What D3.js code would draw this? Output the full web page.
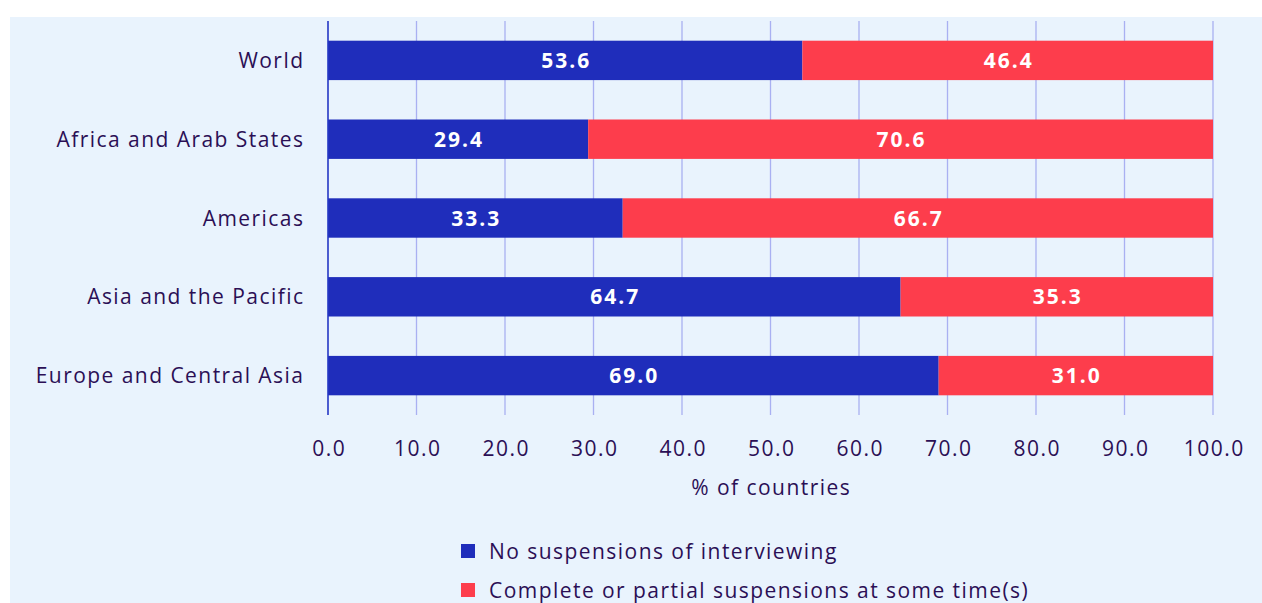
<!DOCTYPE html>
<html>
<head>
<meta charset="utf-8">
<script src="https://cdn.jsdelivr.net/npm/d3@7"></script>
<style>
  html, body { margin: 0; padding: 0; background: #ffffff; }
  svg { display: block; }
  text { font-family: "Open Sans", Lato, sans-serif; }
</style>
</head>
<body>
<svg id="chart" width="1262" height="603"></svg>
<script>
// Regional shares of countries by interviewing suspension status
const regions = ["World", "Africa and Arab States", "Americas", "Asia and the Pacific", "Europe and Central Asia"];
const noSuspension = [53.6, 29.4, 33.3, 64.7, 69.0];
const suspension = [46.4, 70.6, 66.7, 35.3, 31.0];
const seriesNames = ["No suspensions of interviewing", "Complete or partial suspensions at some time(s)"];
const xTicks = [0, 10, 20, 30, 40, 50, 60, 70, 80, 90, 100];
const axisTitle = "% of countries";

const colors = ["#1f2dbb", "#fd3d4c"];
const textColor = "#2b0f55";
const fontSize = 21;
const spacing = 1.45;

const svg = d3.select("#chart");

// panel background
svg.append("rect")
  .attr("x", 10).attr("y", 17)
  .attr("width", 1252).attr("height", 586)
  .attr("fill", "#e9f3fd");

const x = d3.scaleLinear().domain([0, 100]).range([328, 1213]);
const y = d3.scaleBand().domain(regions).range([21, 415]).paddingInner(0.5).paddingOuter(0.25);

// vertical gridlines
svg.append("g")
  .selectAll("line")
  .data(xTicks.slice(1))
  .join("line")
  .attr("x1", d => x(d)).attr("x2", d => x(d))
  .attr("y1", 21).attr("y2", 415)
  .attr("stroke", "#a9b0f2")
  .attr("stroke-width", 1.3);

// stacked bars
const rows = regions.map((r, i) => ({ region: r, parts: [
  { start: 0, value: noSuspension[i], color: colors[0] },
  { start: noSuspension[i], value: suspension[i], color: colors[1] }
]}));

const rowG = svg.append("g").selectAll("g")
  .data(rows)
  .join("g");

rowG.selectAll("rect")
  .data(d => d.parts.map(p => ({ ...p, region: d.region })))
  .join("rect")
  .attr("x", d => x(d.start))
  .attr("width", d => x(d.start + d.value) - x(d.start))
  .attr("y", d => y(d.region))
  .attr("height", y.bandwidth())
  .attr("fill", d => d.color);

rowG.selectAll("text")
  .data(d => d.parts.map(p => ({ ...p, region: d.region })))
  .join("text")
  .attr("x", d => x(d.start + d.value / 2) + 1)
  .attr("y", d => y(d.region) + y.bandwidth() / 2)
  .attr("dy", "0.36em")
  .attr("text-anchor", "middle")
  .attr("fill", "#ffffff")
  .attr("font-weight", "bold")
  .attr("font-size", fontSize)
  .attr("letter-spacing", 2)
  .text(d => d.value.toFixed(1));

// left axis line
svg.append("line")
  .attr("x1", x(0)).attr("x2", x(0))
  .attr("y1", 21).attr("y2", 415)
  .attr("stroke", "#2536c4")
  .attr("stroke-width", 1.6);

// category labels
svg.append("g").selectAll("text")
  .data(regions)
  .join("text")
  .attr("x", 303 + spacing)
  .attr("y", d => y(d) + y.bandwidth() / 2)
  .attr("dy", "0.36em")
  .attr("text-anchor", "end")
  .attr("fill", textColor)
  .attr("font-size", fontSize)
  .attr("letter-spacing", spacing)
  .text(d => d);

// x axis tick labels
const xAxis = d3.axisBottom(x).tickValues(xTicks).tickFormat(d3.format(".1f")).tickSize(0).tickPadding(0);
const axG = svg.append("g").attr("transform", "translate(0,441)").call(xAxis);
axG.select(".domain").remove();
axG.selectAll("text")
  .attr("dx", spacing / 2)
  .attr("fill", textColor)
  .attr("font-size", fontSize)
  .attr("letter-spacing", spacing)
  .attr("font-family", "'Open Sans', Lato, sans-serif");

// axis title
svg.append("text")
  .attr("x", x(50) + spacing / 2).attr("y", 487)
  .attr("dy", "0.36em")
  .attr("text-anchor", "middle")
  .attr("fill", textColor)
  .attr("font-size", fontSize)
  .attr("letter-spacing", spacing)
  .text(axisTitle);

// legend
const legend = svg.append("g").selectAll("g")
  .data(seriesNames)
  .join("g")
  .attr("transform", (d, i) => `translate(461, ${551 + i * 39})`);
legend.append("rect")
  .attr("x", 0).attr("y", -7)
  .attr("width", 14).attr("height", 14)
  .attr("fill", (d, i) => colors[i]);
legend.append("text")
  .attr("x", 28).attr("y", 0)
  .attr("dy", "0.36em")
  .attr("fill", textColor)
  .attr("font-size", fontSize)
  .attr("letter-spacing", spacing)
  .text(d => d);
</script>
</body>
</html>
